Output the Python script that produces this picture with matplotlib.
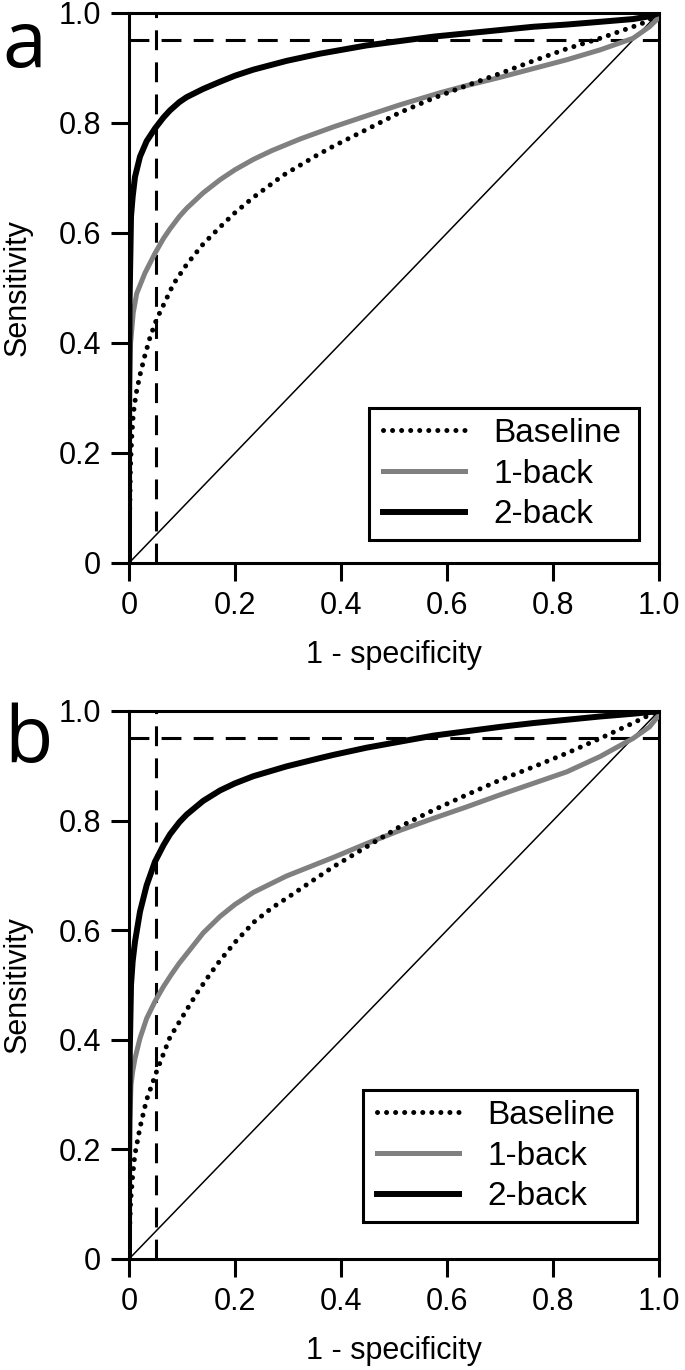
import matplotlib
matplotlib.use("Agg")
import matplotlib.pyplot as plt
from matplotlib.patches import Rectangle

# ---------------- data ----------------
# Panel a
a_base_x = [0.0, 0.0008, 0.0019, 0.0025, 0.0038, 0.0057, 0.0082, 0.0132, 0.0208, 0.0296, 0.0396,
            0.052, 0.068, 0.0837, 0.109, 0.14, 0.172, 0.2, 0.235, 0.291, 0.354, 0.386, 0.448,
            0.511, 0.574, 0.637, 0.70, 0.763, 0.826, 0.889, 0.951, 0.976, 1.0]
a_base_y = [0.0, 0.07, 0.127, 0.166, 0.202, 0.238, 0.272, 0.307, 0.342, 0.376, 0.410,
            0.443, 0.475, 0.507, 0.543, 0.580, 0.611, 0.637, 0.665, 0.705, 0.741, 0.758, 0.788,
            0.819, 0.845, 0.868, 0.890, 0.913, 0.935, 0.954, 0.975, 0.984, 1.0]

a_one_x = [0.0, 0.0003, 0.001, 0.003, 0.008, 0.0145, 0.030, 0.049, 0.065, 0.077, 0.095, 0.109,
           0.14, 0.172, 0.2, 0.235, 0.27, 0.323, 0.386, 0.448, 0.511, 0.587, 0.637, 0.70,
           0.763, 0.826, 0.889, 0.951, 0.982, 0.998, 1.0]
a_one_y = [0.0, 0.20, 0.32, 0.40, 0.455, 0.49, 0.527, 0.563, 0.59, 0.607, 0.630, 0.645,
           0.673, 0.697, 0.715, 0.734, 0.750, 0.771, 0.793, 0.813, 0.833, 0.855, 0.868, 0.883,
           0.899, 0.915, 0.933, 0.954, 0.975, 0.99, 1.0]

a_two_x = [0.0, 0.0002, 0.001, 0.0038, 0.0069, 0.0113, 0.0208, 0.0333, 0.049, 0.065, 0.0774,
           0.095, 0.1088, 0.14, 0.1717, 0.2, 0.2346, 0.2975, 0.360, 0.448, 0.511, 0.574,
           0.637, 0.70, 0.763, 0.826, 0.889, 0.951, 0.982, 1.0]
a_two_y = [0.0, 0.25, 0.47, 0.630, 0.666, 0.702, 0.739, 0.767, 0.790, 0.810, 0.823,
           0.838, 0.847, 0.862, 0.875, 0.886, 0.897, 0.913, 0.926, 0.941, 0.949, 0.957,
           0.963, 0.969, 0.975, 0.979, 0.984, 0.989, 0.994, 1.0]

# Panel b
b_base_x = [0.0, 0.001, 0.003, 0.007, 0.011, 0.021, 0.033, 0.052, 0.077, 0.109, 0.13, 0.153,
            0.172, 0.2, 0.236, 0.27, 0.30, 0.323, 0.355, 0.386, 0.448, 0.511, 0.574, 0.637,
            0.70, 0.763, 0.826, 0.889, 0.951, 0.976, 1.0]
b_base_y = [0.0, 0.05, 0.105, 0.153, 0.19, 0.241, 0.29, 0.342, 0.404, 0.455, 0.488, 0.52,
            0.545, 0.578, 0.615, 0.641, 0.660, 0.675, 0.696, 0.716, 0.752, 0.789, 0.819, 0.847,
            0.874, 0.898, 0.923, 0.950, 0.978, 0.99, 1.0]

b_one_x = [0.0, 0.0005, 0.0015, 0.0038, 0.0069, 0.0113, 0.0208, 0.0333, 0.049, 0.065, 0.0805,
           0.095, 0.109, 0.14, 0.1717, 0.2, 0.2346, 0.2975, 0.360, 0.386, 0.448, 0.511, 0.574,
           0.637, 0.70, 0.763, 0.826, 0.889, 0.951, 0.982, 0.998, 1.0]
b_one_y = [0.0, 0.14, 0.25, 0.318, 0.342, 0.366, 0.403, 0.439, 0.470, 0.497, 0.520,
           0.540, 0.557, 0.595, 0.625, 0.647, 0.669, 0.699, 0.723, 0.733, 0.758, 0.782, 0.804,
           0.825, 0.847, 0.868, 0.889, 0.917, 0.950, 0.971, 0.99, 1.0]

b_two_x = [0.0, 0.0003, 0.0015, 0.0038, 0.0069, 0.0113, 0.0208, 0.0333, 0.049, 0.065, 0.0774,
           0.095, 0.1088, 0.14, 0.1717, 0.2, 0.2346, 0.2975, 0.360, 0.386, 0.448, 0.511,
           0.574, 0.637, 0.70, 0.763, 0.826, 0.889, 0.951, 0.982, 1.0]
b_two_y = [0.0, 0.2, 0.38, 0.50, 0.543, 0.579, 0.634, 0.682, 0.725, 0.755, 0.775,
           0.797, 0.811, 0.836, 0.855, 0.868, 0.881, 0.899, 0.914, 0.920, 0.933, 0.944,
           0.955, 0.963, 0.971, 0.978, 0.984, 0.990, 0.995, 0.998, 1.0]

chance_x = [0.0, 1.0]
chance_y = [0.0, 1.0]
fpr_cut = 0.05
sens_cut = 0.95

series_labels = ["Baseline", "1-back", "2-back"]
tick_vals = [0.0, 0.2, 0.4, 0.6, 0.8, 1.0]
tick_labels = ["0", "0.2", "0.4", "0.6", "0.8", "1.0"]
panel_letters = ["a", "b"]
xlabel_text = "1 - specificity"
ylabel_text = "Sensitivity"

panels = [
    (a_base_x, a_base_y, a_one_x, a_one_y, a_two_x, a_two_y),
    (b_base_x, b_base_y, b_one_x, b_one_y, b_two_x, b_two_y),
]

# ---------------- drawing ----------------
W, H = 685, 1370
fig = plt.figure(figsize=(W / 100, H / 100), dpi=100)
plt.rcParams['font.family'] = ['Liberation Sans', 'DejaVu Sans']

axes_px = [(129, 13, 659, 563), (129, 711, 659, 1259)]
# legend frame box in pixels (left, top, right, bottom) and content anchor (x, top)
legend_box_px = [(369, 408, 639, 540), (363, 1090, 637, 1222)]
legend_anchor_px = [(383, 418), (377, 1100)]
letter_pos = [(2, 67), (4, 762)]

FS = 22
for i, (bx, by, ox, oy, tx, ty) in enumerate(panels):
    l, t, r, b = axes_px[i]
    ax = fig.add_axes([l / W, 1 - b / H, (r - l) / W, (b - t) / H])
    ax.set_xlim(0, 1)
    ax.set_ylim(0, 1)
    ax.plot(chance_x, chance_y, color='black', lw=1.1, zorder=2)
    ax.axvline(fpr_cut, color='black', lw=2.2, linestyle=(0, (6.5, 4)), zorder=2)
    ax.axhline(sens_cut, color='black', lw=2.2, linestyle=(0, (6.5, 4)), zorder=2)
    ax.plot(bx, by, color='black', lw=3.6, linestyle=(0, (0.01, 1.8)),
            dash_capstyle='round', label=series_labels[0], zorder=4)
    ax.plot(ox, oy, color='#808080', lw=3.6, label=series_labels[1], zorder=3,
            solid_joinstyle='round')
    ax.plot(tx, ty, color='black', lw=4.3, label=series_labels[2], zorder=5,
            solid_joinstyle='round')

    for s in ax.spines.values():
        s.set_linewidth(2.2)
    ax.set_xticks(tick_vals)
    ax.set_xticklabels(tick_labels)
    ax.set_yticks(tick_vals)
    ax.set_yticklabels(tick_labels)
    ax.tick_params(direction='out', length=13, width=2.2, labelsize=FS, pad=7)
    ax.set_xlabel(xlabel_text, fontsize=FS, labelpad=14)
    ax.set_ylabel(ylabel_text, fontsize=FS, labelpad=19)

    # legend frame
    bl, bt, br, bb = legend_box_px[i]
    ax.add_patch(Rectangle(((bl - l) / (r - l), (b - bb) / (b - t)),
                           (br - bl) / (r - l), (bb - bt) / (b - t),
                           transform=ax.transAxes, facecolor='white',
                           edgecolor='black', lw=2.2, zorder=6))
    axl, axt = legend_anchor_px[i]
    leg = ax.legend(loc='upper left',
                    bbox_to_anchor=((axl - l) / (r - l), (b - axt) / (b - t)),
                    borderaxespad=0, borderpad=0, fontsize=24, frameon=False,
                    handlelength=2.46, handletextpad=0.84, labelspacing=0.29)
    leg.set_zorder(7)

    lx, ly = letter_pos[i]
    fig.text(lx / W, 1 - ly / H, panel_letters[i], fontsize=57,
             family=['Open Sans', 'DejaVu Sans'], va='baseline', ha='left')

fig.savefig('out.png', dpi=100)
